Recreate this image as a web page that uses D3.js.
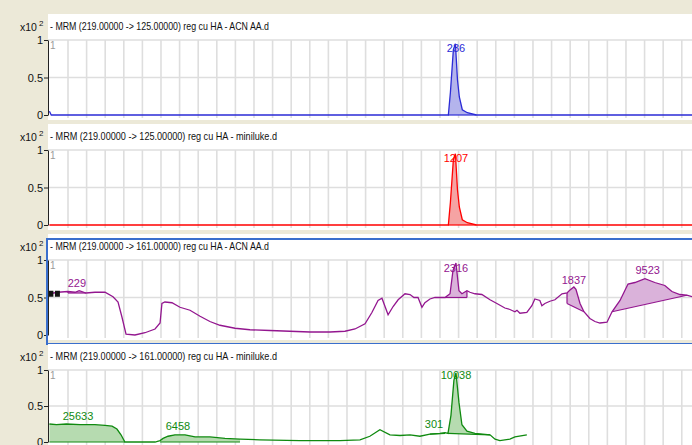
<!DOCTYPE html>
<html><head><meta charset="utf-8">
<script src="https://cdn.jsdelivr.net/npm/d3@7"></script>
<style>
body{margin:0;background:#ece9d8;overflow:hidden;}
svg{display:block;font-family:"Liberation Sans",Arial,sans-serif;}
</style></head><body>
<svg id="chart" width="692" height="445"></svg>
<script>
// Chromatogram titles, one per MRM trace
const titles = [
  "- MRM (219.00000 -> 125.00000) reg cu HA - ACN AA.d",
  "- MRM (219.00000 -> 125.00000) reg cu HA - miniluke.d",
  "- MRM (219.00000 -> 161.00000) reg cu HA - ACN AA.d",
  "- MRM (219.00000 -> 161.00000) reg cu HA - miniluke.d"
];
const yTickValues = [0, 0.5, 1];
const yTickLabels = ["0", "0.5", "1"];

// Traces: [time (min), abundance (x10^2)]
const traceAcn125 = [
  [0,0.05],[0.01,0.0],[1.0,0.0],[2.0,0.0],[2.145,0.0],[2.156,0.3],[2.172,0.87],
  [2.183,0.95],[2.194,0.47],[2.204,0.24],[2.22,0.07],[2.247,0.03],[2.296,0.0],[3.455,0.0]
];
const traceMini125 = [
  [0,0.0],[1.0,0.0],[2.0,0.0],[2.145,0.0],[2.156,0.3],[2.172,0.87],
  [2.183,0.95],[2.194,0.47],[2.204,0.24],[2.22,0.07],[2.247,0.03],[2.296,0.0],[3.455,0.0]
];
const traceAcn161 = [
  [0,0.55],[0.046,0.57],[0.1,0.58],[0.138,0.57],[0.16,0.59],[0.197,0.56],[0.245,0.57],[0.299,0.57],
  [0.342,0.51],[0.369,0.44],[0.39,0.24],[0.412,0.01],[0.46,0.0],[0.514,0.03],[0.568,0.08],
  [0.595,0.16],[0.605,0.42],[0.621,0.44],[0.659,0.43],[0.702,0.37],[0.756,0.33],[0.81,0.25],
  [0.863,0.18],[0.917,0.13],[0.998,0.09],[1.078,0.07],[1.186,0.06],[1.293,0.05],[1.401,0.04],
  [1.508,0.04],[1.589,0.05],[1.643,0.08],[1.697,0.15],[1.734,0.3],[1.767,0.46],[1.788,0.49],
  [1.821,0.27],[1.848,0.38],[1.875,0.47],[1.912,0.55],[1.939,0.54],[1.96,0.5],[1.982,0.5],
  [2.003,0.37],[2.019,0.43],[2.046,0.48],[2.073,0.5],[2.127,0.5],[2.154,0.55],[2.17,0.86],
  [2.186,0.96],[2.202,0.59],[2.218,0.55],[2.245,0.59],[2.261,0.57],[2.288,0.55],[2.325,0.54],
  [2.369,0.47],[2.406,0.42],[2.449,0.36],[2.476,0.34],[2.503,0.31],[2.514,0.33],[2.53,0.29],
  [2.567,0.3],[2.594,0.39],[2.61,0.48],[2.637,0.46],[2.648,0.39],[2.664,0.42],[2.691,0.45],
  [2.718,0.47],[2.756,0.55],[2.783,0.56],[2.799,0.6],[2.82,0.64],[2.831,0.61],[2.853,0.42],
  [2.874,0.31],[2.906,0.22],[2.933,0.18],[2.96,0.16],[2.998,0.17],[3.025,0.31],[3.068,0.46],
  [3.111,0.68],[3.148,0.7],[3.202,0.75],[3.255,0.7],[3.309,0.66],[3.347,0.58],[3.39,0.54],
  [3.427,0.53],[3.455,0.51]
];
const traceMini161 = [
  [0,0.25],[0.038,0.24],[0.091,0.25],[0.165,0.24],[0.245,0.24],[0.299,0.23],[0.337,0.22],
  [0.363,0.18],[0.385,0.1],[0.406,0.0],[0.487,0.0],[0.568,0.0],[0.595,0.02],[0.611,0.05],
  [0.638,0.08],[0.675,0.1],[0.729,0.1],[0.783,0.07],[0.863,0.07],[0.944,0.05],[1.025,0.04],
  [1.132,0.03],[1.347,0.02],[1.562,0.02],[1.67,0.03],[1.723,0.08],[1.777,0.17],[1.831,0.1],
  [1.885,0.09],[1.939,0.1],[1.992,0.08],[2.046,0.11],[2.1,0.12],[2.127,0.13],[2.143,0.12],
  [2.159,0.37],[2.175,0.86],[2.186,0.96],[2.202,0.55],[2.218,0.24],[2.245,0.15],[2.288,0.12],
  [2.369,0.1],[2.396,0.04],[2.422,0.02],[2.476,0.04],[2.503,0.07],[2.567,0.1]
];

// Integrated peaks: start/end time, baseline level at start/end, area label, label anchor
const peaksAcn125  = [{t0:2.145,t1:2.296,b0:0,b1:0,label:"236",lt:2.186,lv:0.84}];
const peaksMini125 = [{t0:2.145,t1:2.296,b0:0,b1:0,label:"1207",lt:2.186,lv:0.84}];
const peaksAcn161  = [
  {t0:0.1,t1:0.197,b0:0.56,b1:0.56,label:"229",lt:0.148,lv:0.64},
  {t0:2.127,t1:2.245,b0:0.5,b1:0.5,label:"2316",lt:2.186,lv:0.84},
  {t0:2.783,t1:2.874,b0:0.42,b1:0.31,label:"1837",lt:2.82,lv:0.68},
  {t0:3.025,t1:3.427,b0:0.31,b1:0.53,label:"9523",lt:3.217,lv:0.82}
];
const peaksMini161 = [
  {t0:0,t1:0.406,b0:0,b1:0,label:"25633",lt:0.154,lv:0.3},
  {t0:0.595,t1:1.025,b0:0,b1:0,label:"6458",lt:0.691,lv:0.17},
  {t0:2.046,t1:2.127,b0:0.11,b1:0.12,label:"301",lt:2.068,lv:0.19},
  {t0:2.143,t1:2.369,b0:0.12,b1:0.1,label:"10038",lt:2.186,lv:0.88}
];

const traces = [traceAcn125, traceMini125, traceAcn161, traceMini161];
const peaks = [peaksAcn125, peaksMini125, peaksAcn161, peaksMini161];
const lineColors = ["#2b2bd6", "#ff0000", "#93168f", "#108a10"];
const fillColors = ["#b4b4ec", "#f5a3a3", "#dab2da", "#b6dbb0"];

const svg = d3.select("#chart");
const W = 692;
const left = 48;
const x = d3.scaleLinear().domain([0, 3.455]).range([49.4, 692]);
const gridT = d3.range(0.1, 3.45, 0.1);

titles.forEach((title, k) => {
  const top = 14 + 110 * k;
  // the bottom panel is slightly compressed by the window edge
  const yBottom = k === 3 ? 442 : 115 + 110 * k;
  const y = d3.scaleLinear().domain([0, 1]).range([yBottom, 40 + 110 * k]);
  const g = svg.append("g");

  // panel background
  g.append("rect").attr("x", left).attr("y", top).attr("width", W - left)
    .attr("height", 106).attr("fill", "#fff");

  const clipId = "clip" + k;
  svg.append("clipPath").attr("id", clipId).append("rect")
    .attr("x", left).attr("y", top).attr("width", W - left).attr("height", 106);

  const plot = g.append("g").attr("clip-path", `url(#${clipId})`);

  // gridlines
  plot.selectAll(".vg").data(gridT).join("line")
    .attr("x1", d => x(d)).attr("x2", d => x(d))
    .attr("y1", y(1)).attr("y2", y(0) + 3)
    .attr("stroke", "#dedede").attr("stroke-width", 1.6);
  plot.selectAll(".hg").data([0.5, 1]).join("line")
    .attr("x1", left).attr("x2", W).attr("y1", d => y(d)).attr("y2", d => y(d))
    .attr("stroke", "#dedede").attr("stroke-width", 1.6);

  const data = traces[k];
  // integrated peak regions
  peaks[k].forEach(p => {
    const pts = data.filter(d => d[0] >= p.t0 && d[0] <= p.t1);
    const poly = pts.concat([[p.t1, p.b1], [p.t0, p.b0]]);
    plot.append("path")
      .attr("d", d3.line().x(d => x(d[0])).y(d => y(d[1]))(poly) + "Z")
      .attr("fill", fillColors[k]).attr("stroke", "none");
    plot.append("line")
      .attr("x1", x(p.t0)).attr("y1", y(p.b0)).attr("x2", x(p.t1)).attr("y2", y(p.b1))
      .attr("stroke", lineColors[k]).attr("stroke-width", 1.2);
    if (p.b1 !== 0) {
      const last = pts[pts.length - 1];
      plot.append("line")
        .attr("x1", x(p.t1)).attr("y1", y(p.b1)).attr("x2", x(p.t1)).attr("y2", y(last[1]))
        .attr("stroke", lineColors[k]).attr("stroke-width", 1.2);
    }
    if (p.b0 !== 0) {
      const first = pts[0];
      plot.append("line")
        .attr("x1", x(p.t0)).attr("y1", y(p.b0)).attr("x2", x(p.t0)).attr("y2", y(first[1]))
        .attr("stroke", lineColors[k]).attr("stroke-width", 1.2);
    }
  });

  // trace
  plot.append("path").datum(data)
    .attr("d", d3.line().x(d => x(d[0])).y(d => y(d[1])))
    .attr("fill", "none").attr("stroke", lineColors[k]).attr("stroke-width", 1.3);

  // peak area labels
  plot.selectAll(".pl").data(peaks[k]).join("text")
    .attr("x", d => x(d.lt)).attr("y", d => y(d.lv))
    .attr("text-anchor", "middle").attr("font-size", 11)
    .attr("fill", lineColors[k]).text(d => d.label);

  // cursor marker on the selected trace
  if (k === 2) {
    plot.selectAll(".mk").data([0, 0.035]).join("rect")
      .attr("x", d => x(d) - 1).attr("y", y(0.55) - 3).attr("width", 5).attr("height", 6)
      .attr("fill", "#111");
  }

  // small peak index
  g.append("text").attr("x", 50).attr("y", y(1) + 9).attr("font-size", 10)
    .attr("fill", "#9a9a9a").text("1");

  // title
  g.append("text").attr("x", 50).attr("y", top + 16).attr("font-size", 11)
    .attr("fill", "#111").attr("textLength", k % 2 ? 227 : 219)
    .attr("lengthAdjust", "spacingAndGlyphs").text(title);

  // y-axis scale multiplier
  const mul = g.append("text").attr("x", 20).attr("y", top + 17).attr("font-size", 10.5)
    .attr("fill", "#111");
  mul.append("tspan").text("x10");
  mul.append("tspan").attr("dx", 2).attr("dy", -5).attr("font-size", 8).text("2");

  // y axis
  const axis = d3.axisLeft(y).tickValues(yTickValues)
    .tickFormat((d, i) => yTickLabels[i]).tickSize(4).tickSizeOuter(0);
  const ag = g.append("g").attr("transform", `translate(${left},0)`).call(axis);
  ag.select(".domain").attr("stroke", "#222");
  ag.selectAll(".tick line").attr("stroke", "#222");
  ag.selectAll(".tick text").attr("font-size", 11).attr("fill", "#111")
    .attr("font-family", "Liberation Sans, Arial, sans-serif").attr("x", -5);

  // selected panel frame
  if (k === 2) {
    g.append("rect").attr("x", 47).attr("y", top + 5).attr("width", W - 46)
      .attr("height", 105).attr("fill", "none").attr("stroke", "#3a6fcd").attr("stroke-width", 2);
  }
});
</script>
</body></html>
